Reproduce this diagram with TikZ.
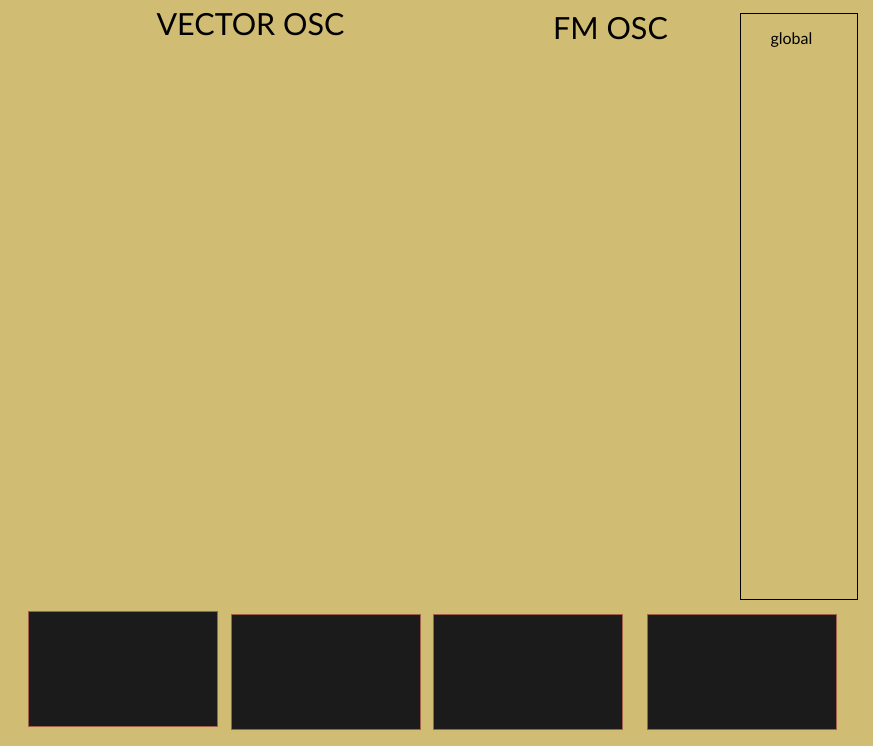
\documentclass[tikz,border=0pt]{standalone}
\usepackage{fontspec}
\setmainfont{Lato}
\definecolor{bg}{HTML}{D0BC72}
\definecolor{panel}{HTML}{1B1B1B}
\definecolor{edge}{HTML}{A0604A}
\begin{document}
\begin{tikzpicture}[x=1pt,y=-1pt,
  slot/.style={draw=edge,line width=0.8pt,fill=panel},
  title/.style={font=\fontsize{30.5}{32}\selectfont,text=black,inner sep=0pt,anchor=base}]
\fill[bg] (0,0) rectangle (873,746);
\useasboundingbox (0,0) rectangle (873,746);
\node[title] (vec) at (250.5,36) {VECTOR OSC};
\node[title] (fm) at (610.5,40) {FM OSC};
\draw[black,line width=1pt] (740.3,13.3) rectangle (857.7,599.3);
\node[font=\fontsize{16}{18}\selectfont,inner sep=0pt,anchor=base] (glob) at (791.5,44.5) {global};
\draw[slot] (28.3,611.7) rectangle (217.3,726.7);
\draw[slot] (231.3,614) rectangle (420.3,729);
\draw[slot] (433.3,614.3) rectangle (622.7,729.3);
\draw[slot] (647.3,614.3) rectangle (836.3,729.3);
\end{tikzpicture}
\end{document}
